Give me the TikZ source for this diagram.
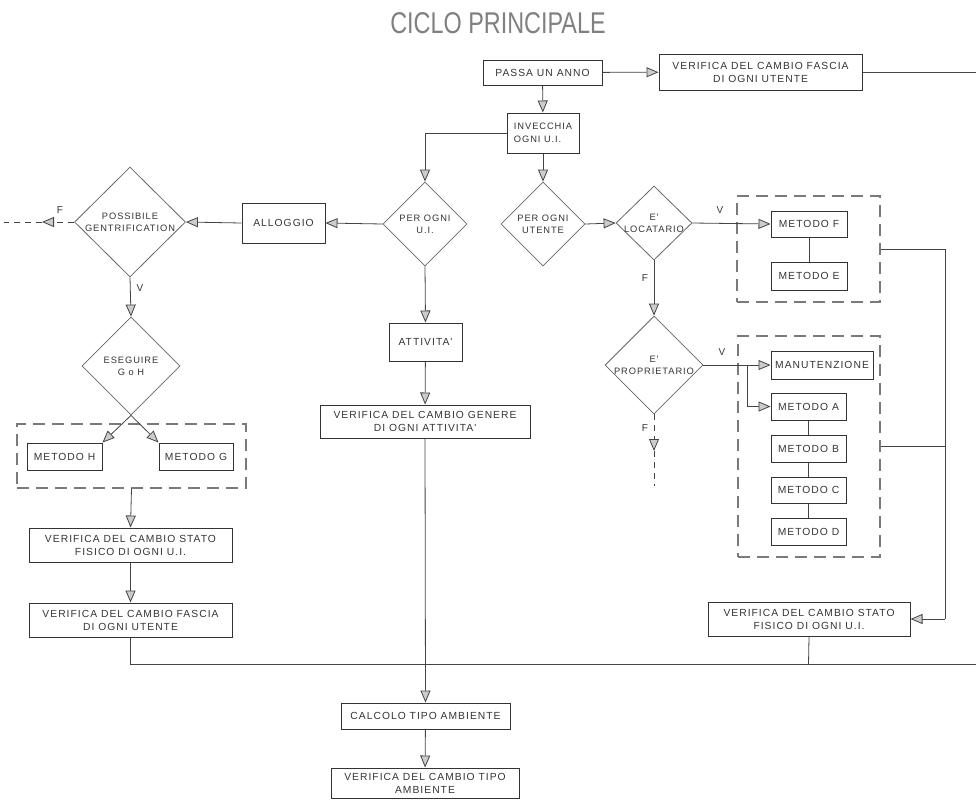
\documentclass[tikz,border=0pt]{standalone}
\usepackage{fontspec}
\setmainfont{Liberation Sans}
\newfontfamily\cad[LetterSpace=10]{Liberation Sans}
\usetikzlibrary{arrows.meta,shapes.geometric}
\definecolor{ink}{HTML}{333333}
\definecolor{lin}{HTML}{444444}
\definecolor{dsh}{HTML}{7A7A7A}
\newcommand\dl[1]{\makebox[0pt]{#1}}
\begin{document}
\begin{tikzpicture}[x=1pt,y=-1pt,
  font=\cad\fontsize{10.3}{13}\selectfont, text=ink,
  box/.style={draw=black!80, line width=1.0pt, rectangle, inner sep=0pt, align=center},
  dia/.style={draw=black!60, line width=0.8pt, diamond, inner sep=0pt, align=center, font=\cad\fontsize{9.3}{12}\selectfont},
  grp/.style={draw=dsh, line width=1.2pt, dash pattern=on 12pt off 7pt, rectangle, inner sep=0pt},
  con/.style={draw=lin, line width=0.8pt},
  arr/.style={con, -{Triangle[length=12pt,width=10pt,fill=black!20,line width=0.8pt]}},
  dsl/.style={dash pattern=on 6pt off 5pt},
  lab/.style={font=\cad\fontsize{10}{12}\selectfont, inner sep=0pt}]
\useasboundingbox (0,0) rectangle (976,801);

% title
\node[font=\fontsize{30}{32}\selectfont, text=black!50, inner sep=0pt] (title) at (498,23) {\scalebox{0.78}[1]{CICLO PRINCIPALE}};

% top row
\node[box, minimum width=119pt, minimum height=25pt] (passa) at (542.5,72.5) {PASSA UN ANNO};
\node[box, minimum width=203pt, minimum height=36pt] (vfasciaT) at (760.5,72) {VERIFICA DEL CAMBIO FASCIA\\DI OGNI UTENTE};
\coordinate (exitT) at (976,72);
\node[box, minimum width=72pt, minimum height=40pt, align=left, font=\cad\fontsize{9.3}{13}\selectfont] (inv) at (543,133) {INVECCHIA\\OGNI U.I.};

% diamonds
\node[dia, minimum width=84pt, minimum height=84pt] (pou) at (425,224) {\dl{PER OGNI}\\\dl{U.I.}};
\node[dia, minimum width=84pt, minimum height=84pt] (pout) at (543,224) {\dl{PER OGNI}\\\dl{UTENTE}};
\node[dia, minimum width=76pt, minimum height=74pt] (loc) at (654,223) {\dl{E'}\\\dl{LOCATARIO}};
\node[dia, minimum width=98pt, minimum height=98pt] (prop) at (654,365) {\dl{E'}\\\dl{PROPRIETARIO}};
\node[dia, minimum width=111pt, minimum height=110pt] (poss) at (130,222) {\dl{POSSIBILE}\\\dl{GENTRIFICATION}};
\node[dia, minimum width=98pt, minimum height=98pt] (eseg) at (131,366) {\dl{ESEGUIRE}\\\dl{G o H}};

% left column
\node[box, minimum width=83pt, minimum height=40pt] (allog) at (283.5,223) {ALLOGGIO};
\node[grp, minimum width=229pt, minimum height=64pt] (grpGH) at (131.5,456) {};
\node[box, minimum width=75pt, minimum height=27pt] (mH) at (64.5,456.5) {METODO H};
\node[box, minimum width=74pt, minimum height=27pt] (mG) at (196,456.5) {METODO G};
\node[box, minimum width=203pt, minimum height=34pt] (vstatoL) at (130.5,545) {VERIFICA DEL CAMBIO STATO\\FISICO DI OGNI U.I.};
\node[box, minimum width=203pt, minimum height=34pt] (vfasciaL) at (130.5,620) {VERIFICA DEL CAMBIO FASCIA\\DI OGNI UTENTE};

% middle column
\node[box, minimum width=73pt, minimum height=38pt] (att) at (425.5,342) {ATTIVITA'};
\node[box, minimum width=210pt, minimum height=33pt] (vgen) at (425,421.5) {VERIFICA DEL CAMBIO GENERE\\DI OGNI ATTIVITA'};
\node[box, minimum width=169pt, minimum height=26pt] (calc) at (425.5,716) {CALCOLO TIPO AMBIENTE};
\node[box, minimum width=188pt, minimum height=30pt] (vtipo) at (425,783) {VERIFICA DEL CAMBIO TIPO\\AMBIENTE};

% right column
\node[grp, minimum width=143pt, minimum height=106pt] (grpFE) at (808.5,249) {};
\node[box, minimum width=76pt, minimum height=26pt] (mF) at (809,224) {METODO F};
\node[box, minimum width=76pt, minimum height=28pt] (mE) at (809,276) {METODO E};
\node[grp, minimum width=142pt, minimum height=221pt] (grpAD) at (809,446.5) {};
\node[box, minimum width=102pt, minimum height=28pt] (manu) at (822,365) {MANUTENZIONE};
\node[box, minimum width=75pt, minimum height=27pt] (mA) at (808.5,406.5) {METODO A};
\node[box, minimum width=75pt, minimum height=27pt] (mB) at (808.5,448.5) {METODO B};
\node[box, minimum width=75pt, minimum height=26pt] (mC) at (808.5,490) {METODO C};
\node[box, minimum width=75pt, minimum height=27pt] (mD) at (808.5,531.5) {METODO D};
\node[box, minimum width=202pt, minimum height=34pt] (vstatoR) at (809,619) {VERIFICA DEL CAMBIO STATO\\FISICO DI OGNI U.I.};

% helper coordinates
\coordinate (rbus) at (945,249);
\coordinate (rbus2) at (945,446);
\coordinate (rbus3) at (945,619);
\coordinate (bl) at (130.5,664);
\coordinate (exitB) at (976,664);
\coordinate (vstR) at (808.5,664);
\coordinate (br) at (747,365);
\coordinate (pf1) at (42,222);
\coordinate (pf2) at (4,222);
\coordinate (qf1) at (654,451);
\coordinate (qf2) at (654,486);

% connectors
\draw[arr] (passa) -- (vfasciaT);
\draw[con] (vfasciaT) -- (exitT);
\draw[arr] (passa) -- (inv);
\draw[arr] (inv.west) -| (pou.north);
\draw[arr] (inv.south) -- (pout.north);
\draw[arr] (pout.east) -- (loc.west);
\draw[arr] (loc.east) -- (mF.west);
\draw[con] (mF) -- (mE);
\draw[arr] (loc.south) -- (prop.north);
\draw[arr] (prop.east) -- (manu.west);
\draw[arr] (br) |- (mA.west);
\draw[con] (mA) -- (mB);
\draw[con] (mB) -- (mC);
\draw[con] (mC) -- (mD);
\draw[arr, dsl] (prop.south) -- (qf1);
\draw[con, dsl] (qf1) -- (qf2);
\draw[con] (grpFE.east |- rbus) -- (rbus) -- (rbus3);
\draw[con] (grpAD.east |- rbus2) -- (rbus2);
\draw[arr] (rbus3) -- (vstatoR.east);
\draw[con] (vstatoR.south) -- (vstR);

\draw[arr] (pou.west) -- (allog.east);
\draw[arr] (allog.west) -- (poss.east);
\draw[arr, dsl] (poss.west) -- (pf1);
\draw[con, dsl] (pf1) -- (pf2);
\draw[arr] (poss.south) -- (eseg.north);
\draw[arr] (eseg.south) -- (mH.north east);
\draw[arr] (eseg.south) -- (mG.north west);
\draw[arr] (grpGH.south) -- (vstatoL.north);
\draw[arr] (vstatoL) -- (vfasciaL);
\draw[con] (vfasciaL.south) -- (bl) -- (exitB);

\draw[arr] (pou.south) -- (att.north);
\draw[arr] (att) -- (vgen);
\draw[arr] (vgen.south) -- (calc.north);
\draw[arr] (calc) -- (vtipo);

% labels
\node[lab] (lF1) at (60,210) {F};
\node[lab] (lV1) at (140,288) {V};
\node[lab] (lV2) at (720,210) {V};
\node[lab] (lF2) at (645,278) {F};
\node[lab] (lV3) at (722,352) {V};
\node[lab] (lF3) at (645,428) {F};
\end{tikzpicture}
\end{document}
